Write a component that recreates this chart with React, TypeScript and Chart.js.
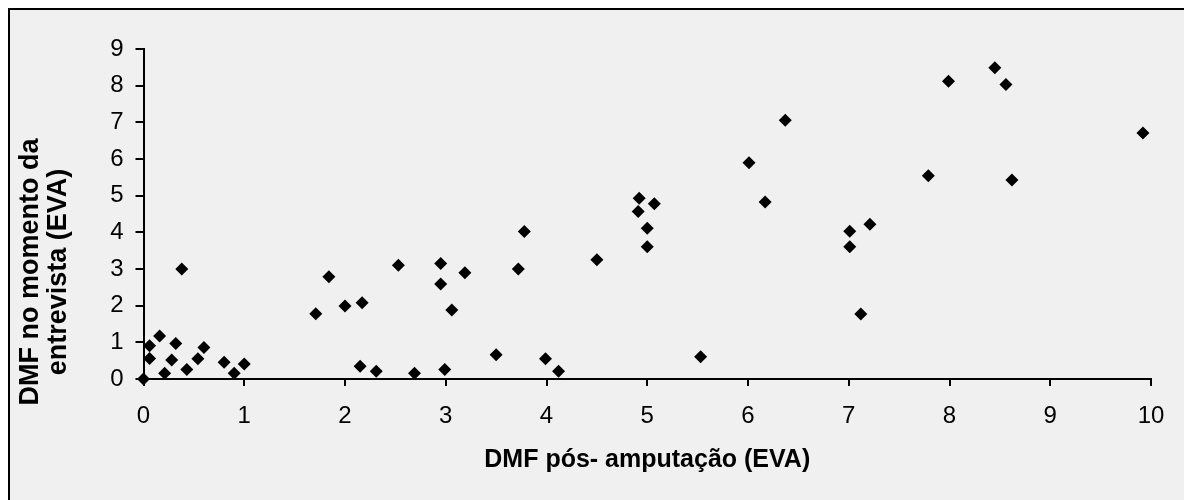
import React, { useEffect, useRef } from "react";
import { Chart, registerables } from "chart.js";

Chart.register(...registerables);

// DMF after amputation (x) vs. DMF at interview time (y), EVA scale
const dmfPosAmputacao: number[] = [
  0, 0.06, 0.06, 0.16, 0.21, 0.32, 0.28, 0.43, 0.54, 0.6, 0.8, 0.9, 1.0,
  0.38, 1.71, 1.84, 2.0, 2.17, 2.15, 2.31, 2.53, 2.69, 2.99, 2.95, 2.95,
  3.19, 3.06, 3.5, 3.78, 3.72, 3.99, 4.12, 4.5, 4.92, 4.91, 5.07, 5.0, 5.0,
  5.53, 6.01, 6.17, 6.37, 7.01, 7.01, 7.21, 7.12, 7.79, 7.99, 8.45, 8.56,
  8.62, 9.92,
];

const dmfEntrevista: number[] = [
  0, 0.91, 0.56, 1.17, 0.16, 0.97, 0.52, 0.26, 0.55, 0.86, 0.46, 0.16, 0.41,
  3.0, 1.78, 2.79, 1.99, 2.08, 0.35, 0.21, 3.1, 0.16, 0.26, 3.15, 2.59,
  2.9, 1.88, 0.66, 4.02, 3.0, 0.55, 0.21, 3.25, 4.93, 4.57, 4.78, 4.11, 3.61,
  0.61, 5.9, 4.83, 7.06, 4.03, 3.61, 4.22, 1.77, 5.54, 8.12, 8.49, 8.03,
  5.43, 6.71,
];

const xTitle = "DMF pós- amputação (EVA)";
const yTitle = ["DMF no momento da", "entrevista (EVA)"];

const CANVAS_W = 1174;
const CANVAS_H = 490;
const FONT = "'Liberation Sans', Arial, sans-serif";

// Two-line rotated title for the value axis, centred a little below the plot middle
const yTitlePlugin = {
  id: "yTitleLines",
  afterDraw(chart: any) {
    const { ctx, chartArea } = chart;
    const centerY = chartArea.bottom - 107;
    const baselines = [28, 56];
    ctx.save();
    ctx.fillStyle = "#000";
    ctx.font = `bold 27px ${FONT}`;
    ctx.textAlign = "center";
    ctx.textBaseline = "alphabetic";
    yTitle.forEach((line, i) => {
      ctx.save();
      ctx.translate(baselines[i], centerY);
      ctx.rotate(-Math.PI / 2);
      ctx.fillText(line, 0, 0);
      ctx.restore();
    });
    ctx.restore();
  },
};

export default function App() {
  const canvasRef = useRef<HTMLCanvasElement | null>(null);

  useEffect(() => {
    const canvas = canvasRef.current;
    if (!canvas) return;
    const points = dmfPosAmputacao.map((x, i) => ({ x, y: dmfEntrevista[i] }));

    const chart = new Chart(canvas, {
      type: "scatter",
      data: {
        datasets: [
          {
            data: points,
            pointStyle: "rectRot",
            pointRadius: 6.5,
            pointHoverRadius: 6.5,
            backgroundColor: "#000",
            borderColor: "#000",
            borderWidth: 0,
            clip: false,
          },
        ],
      },
      options: {
        animation: false,
        responsive: false,
        devicePixelRatio: 1,
        events: [],
        layout: { padding: { top: 39, right: 33, left: 0, bottom: 0 } },
        plugins: {
          legend: { display: false },
          tooltip: { enabled: false },
        },
        scales: {
          x: {
            type: "linear",
            min: 0,
            max: 10,
            afterFit: (scale: any) => {
              scale.height = 121;
            },
            border: { display: true, color: "#000", width: 2 },
            grid: {
              display: true,
              drawOnChartArea: false,
              drawTicks: true,
              tickLength: 7,
              color: "#000",
              lineWidth: 2,
            },
            ticks: {
              stepSize: 1,
              color: "#000",
              padding: 16,
              font: { family: FONT, size: 24 },
              maxRotation: 0,
            },
            title: {
              display: true,
              text: xTitle,
              color: "#000",
              font: { family: FONT, size: 25, weight: "bold" },
              padding: { top: 0, bottom: 25 },
            },
          },
          y: {
            type: "linear",
            min: 0,
            max: 9,
            afterFit: (scale: any) => {
              scale.width = 133.5;
            },
            border: { display: true, color: "#000", width: 2 },
            grid: {
              display: true,
              drawOnChartArea: false,
              drawTicks: true,
              tickLength: 8,
              color: "#000",
              lineWidth: 2,
            },
            ticks: {
              stepSize: 1,
              color: "#000",
              padding: 12,
              font: { family: FONT, size: 24 },
            },
          },
        },
      },
      plugins: [yTitlePlugin],
    });

    return () => chart.destroy();
  }, []);

  return (
    <div
      style={{
        position: "fixed",
        left: 8,
        top: 8,
        width: 1176,
        height: 492,
        boxSizing: "border-box",
        borderLeft: "2px solid #000",
        borderTop: "2px solid #000",
        background: "#f0f0f0",
        overflow: "hidden",
      }}
    >
      <canvas
        ref={canvasRef}
        width={CANVAS_W}
        height={CANVAS_H}
        style={{ display: "block", width: CANVAS_W, height: CANVAS_H }}
      />
    </div>
  );
}
